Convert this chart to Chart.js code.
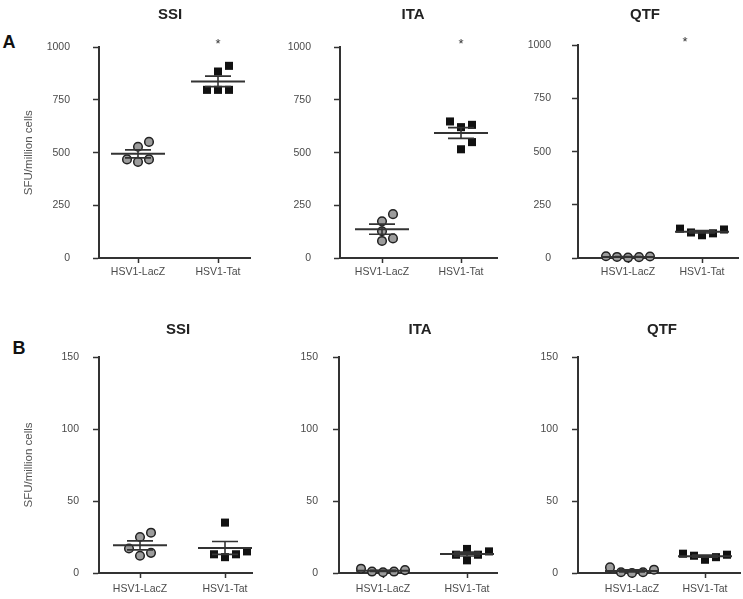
<!DOCTYPE html>
<html>
<head>
<meta charset="utf-8">
<script src="https://cdn.jsdelivr.net/npm/chart.js@4.4.0/dist/chart.umd.min.js"></script>
<style>
  body { margin: 0; background: #fff; width: 743px; height: 599px; position: relative; overflow: hidden;
         font-family: "Liberation Sans", Arial, sans-serif; }
  .panel { position: absolute; }
  .ttl { position: absolute; transform: translate(-50%, -50%); font-weight: bold; font-size: 15px; color: #222; white-space: nowrap; }
  .letter { position: absolute; transform: translate(-50%, -50%); font-weight: bold; font-size: 18px; color: #111; }
</style>
</head>
<body>
<div class="letter" style="left:9px;top:42px">A</div>
<div class="letter" style="left:19px;top:348px">B</div>
<script>
/* categories and ticks */
const groups = ['HSV1-LacZ', 'HSV1-Tat'];
const yTicksA = [0, 250, 500, 750, 1000];
const yTicksB = [0, 50, 100, 150];
const yTitle = 'SFU/million cells';

/* A: SFU per million cells */
const ssiLacZ_A = [551, 528, 468, 456, 468];
const ssiTat_A  = [912, 885, 798, 798, 798];
const itaLacZ_A = [208, 174, 127, 81, 93];
const itaTat_A  = [632, 648, 621, 550, 516];
const qtfLacZ_A = [8, 5, 2, 4, 7];
const qtfTat_A  = [138, 120, 107, 116, 134];

/* B */
const ssiLacZ_B = [28, 25, 17, 12, 14];
const ssiTat_B  = [35, 13, 11, 13, 15];
const itaLacZ_B = [3, 1, 0.5, 1, 2];
const itaTat_B  = [12.7, 16.7, 12.7, 8.8, 15];
const qtfLacZ_B = [3.9, 0.5, 0, 0.5, 2.3];
const qtfTat_B  = [13.4, 12, 9.2, 11, 12.7];

/* where each panel sits on the page */
const panels = [
  { name: 'SSI', lac: ssiLacZ_A, tat: ssiTat_A, ticks: yTicksA, axisX: 99,  cat0: 138, cat1: 218, right: 250, top: 43,  bottom: 258, first: true,  tx: 170, ty: 13,  star: 0,   tickPad: 23, xPad: 3 },
  { name: 'ITA', lac: itaLacZ_A, tat: itaTat_A, ticks: yTicksA, axisX: 340, cat0: 382, cat1: 461, right: 497, top: 43,  bottom: 258, first: false, tx: 413, ty: 13,  star: 0,   tickPad: 23, xPad: 3 },
  { name: 'QTF', lac: qtfLacZ_A, tat: qtfTat_A, ticks: yTicksA, axisX: 578, cat0: 628, cat1: 702, right: 738, top: 43,  bottom: 258, first: false, tx: 645, ty: 13,  star: -17, tickPad: 21, xPad: 3 },
  { name: 'SSI', lac: ssiLacZ_B, tat: ssiTat_B, ticks: yTicksB, axisX: 99,  cat0: 140, cat1: 225, right: 252, top: 357, bottom: 573, first: true,  tx: 178, ty: 328, star: null, tickPad: 14, xPad: 5 },
  { name: 'ITA', lac: itaLacZ_B, tat: itaTat_B, ticks: yTicksB, axisX: 339, cat0: 383, cat1: 467, right: 497, top: 357, bottom: 573, first: false, tx: 420, ty: 328, star: null, tickPad: 15, xPad: 5 },
  { name: 'QTF', lac: qtfLacZ_B, tat: qtfTat_B, ticks: yTicksB, axisX: 578, cat0: 632, cat1: 705, right: 740, top: 357, bottom: 573, first: false, tx: 662, ty: 328, star: null, tickPad: 14, xPad: 5 }
];

const ink = '#333';
const txt = '#4a4a4a';

// spread points sideways like a column scatter (no randomness)
function swarm(values, pxY, pxX) {
  const gap = 11, minDist = 9.5;
  const order = values.map((v, i) => i).sort((a, b) => values[a] - values[b]);
  const placed = [];
  const xs = [];
  order.forEach(i => {
    const y = values[i] * pxY;
    for (let k = 0; k < 40; k++) {
      const off = k === 0 ? 0 : (k % 2 ? 1 : -1) * Math.ceil(k / 2) * gap;
      if (placed.every(p => Math.hypot(p.x - off, p.y - y) >= minDist)) {
        placed.push({ x: off, y: y });
        xs[i] = off / pxX;
        break;
      }
    }
  });
  return xs;
}

function stats(v) {
  const m = v.reduce((a, b) => a + b, 0) / v.length;
  const sd = Math.sqrt(v.reduce((a, b) => a + (b - m) * (b - m), 0) / (v.length - 1));
  return { mean: m, sem: sd / Math.sqrt(v.length) };
}

const meanSem = {
  id: 'meanSem',
  afterDatasetsDraw(chart) {
    const { ctx, scales: { x, y } } = chart;
    ctx.save();
    ctx.strokeStyle = ink;
    chart.data.datasets.forEach((ds, i) => {
      const s = stats(ds.raw);
      const cx = x.getPixelForValue(i);
      const my = y.getPixelForValue(s.mean);
      const hi = y.getPixelForValue(s.mean + s.sem);
      const lo = y.getPixelForValue(Math.max(s.mean - s.sem, 0));
      ctx.lineWidth = 2;
      ctx.beginPath(); ctx.moveTo(cx - 27, my); ctx.lineTo(cx + 27, my); ctx.stroke();
      ctx.lineWidth = 1.6;
      ctx.beginPath();
      ctx.moveTo(cx, hi); ctx.lineTo(cx, lo);
      ctx.moveTo(cx - 13, hi); ctx.lineTo(cx + 13, hi);
      ctx.moveTo(cx - 13, lo); ctx.lineTo(cx + 13, lo);
      ctx.stroke();
    });
    const p = chart.options.plugins.meanSem;
    if (p.star !== null) {
      ctx.fillStyle = ink;
      ctx.font = '13px "Liberation Sans", Arial, sans-serif';
      ctx.textAlign = 'center';
      ctx.textBaseline = 'alphabetic';
      ctx.fillText('*', x.getPixelForValue(1) + p.star, chart.chartArea.top + 0.5);
    }
    ctx.restore();
  }
};

panels.forEach(p => {
  const yW = p.first ? 90 : 62;
  const L = p.axisX - yW, T = p.top - 25;
  const W = p.right + 6 - L, H = p.bottom + 30 - T;
  const div = document.createElement('div');
  div.className = 'panel';
  div.style.left = L + 'px'; div.style.top = T + 'px';
  div.style.width = W + 'px'; div.style.height = H + 'px';
  const cv = document.createElement('canvas');
  cv.width = W; cv.height = H;
  div.appendChild(cv);
  document.body.appendChild(div);

  const t = document.createElement('div');
  t.className = 'ttl';
  t.style.left = p.tx + 'px'; t.style.top = p.ty + 'px';
  t.textContent = p.name;
  document.body.appendChild(t);

  const unit = p.cat1 - p.cat0;
  const yMax = p.ticks[p.ticks.length - 1];
  const pxY = (p.bottom - p.top) / yMax;
  const xMin = -(p.cat0 - p.axisX) / unit;
  const xMax = (p.right - p.cat0) / unit;

  const lacX = swarm(p.lac, pxY, unit);
  const tatX = swarm(p.tat, pxY, unit);

  new Chart(cv, {
    type: 'scatter',
    data: {
      datasets: [
        { raw: p.lac, data: p.lac.map((v, i) => ({ x: lacX[i], y: v })),
          pointStyle: 'circle', pointRadius: 4.3, backgroundColor: '#9c9c9c', borderColor: '#222', borderWidth: 1.5, clip: false },
        { raw: p.tat, data: p.tat.map((v, i) => ({ x: 1 + tatX[i], y: v })),
          pointStyle: 'rect', pointRadius: 5.7, backgroundColor: '#111', borderColor: '#111', borderWidth: 0, clip: false }
      ]
    },
    options: {
      responsive: false,
      animation: false,
      events: [],
      layout: { padding: { left: 0, top: p.top - T, right: L + W - p.right, bottom: 0 } },
      plugins: { legend: { display: false }, tooltip: { enabled: false }, meanSem: { star: p.star } },
      scales: {
        x: {
          type: 'linear', min: xMin, max: xMax,
          afterBuildTicks: s => { s.ticks = [{ value: 0 }, { value: 1 }]; },
          afterFit: s => { s.height = T + H - p.bottom; },
          border: { color: ink, width: 2 },
          grid: { drawOnChartArea: false, tickColor: ink, tickWidth: 1.5, tickLength: 5 },
          ticks: { callback: v => groups[v], color: txt, padding: p.xPad, maxRotation: 0,
                   font: { family: '"Liberation Sans", Arial, sans-serif', size: 10.5 } }
        },
        y: {
          min: 0, max: yMax,
          afterBuildTicks: s => { s.ticks = p.ticks.map(v => ({ value: v })); },
          afterFit: s => { s.width = yW; },
          border: { color: ink, width: 2 },
          grid: { drawOnChartArea: false, tickColor: ink, tickWidth: 1.5, tickLength: 6 },
          ticks: { callback: v => String(v), color: txt, padding: p.tickPad,
                   font: { family: '"Liberation Sans", Arial, sans-serif', size: 10.5 } },
          title: { display: p.first, text: yTitle, color: '#555', padding: { top: 13, bottom: 0 },
                   font: { family: '"Liberation Sans", Arial, sans-serif', size: 11.5 } }
        }
      }
    },
    plugins: [meanSem]
  });
});
</script>
</body>
</html>
